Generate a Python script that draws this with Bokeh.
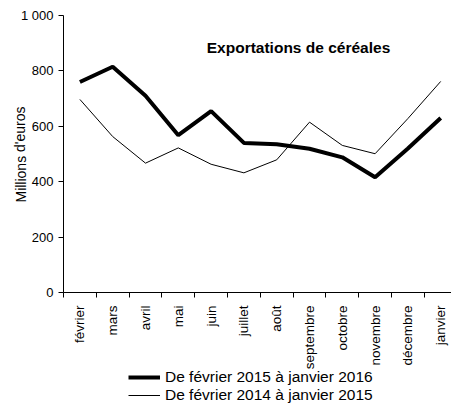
from bokeh.plotting import figure
from bokeh.models import Range1d, FixedTicker, Label, Legend, LegendItem
from bokeh.embed import file_html
from bokeh.resources import INLINE

months = ["février", "mars", "avril", "mai", "juin", "juillet", "août",
          "septembre", "octobre", "novembre", "décembre", "janvier"]
serie_2015 = [760, 815, 710, 568, 655, 540, 535, 519, 488, 416, 520, 630]
serie_2014 = [697, 563, 467, 522, 463, 432, 479, 615, 531, 501, 628, 762]
y_ticks = [0, 200, 400, 600, 800, 1000]
y_labels = {0: "0", 200: "200", 400: "400", 600: "600", 800: "800", 1000: "1 000"}

xs = list(range(len(months)))

# the frame fills the whole page; axes are drawn at fixed locations inside it
p = figure(frame_width=451, frame_height=403, output_backend="svg", toolbar_location=None,
           x_range=Range1d(-2.4207, 11.329), y_range=Range1d(-400.7, 1054.15))
p.min_border = 0
p.min_border_left = 0
p.min_border_right = 0
p.min_border_top = 0
p.min_border_bottom = 0
p.outline_line_color = None
p.xgrid.visible = False
p.ygrid.visible = False
p.background_fill_color = "white"
p.border_fill_color = "white"

font = "Liberation Sans"

r1 = p.line(xs, serie_2015, line_width=4, line_color="black")
r2 = p.line(xs, serie_2014, line_width=1, line_color="black")

# x axis, drawn at y = 0
xa = p.xaxis[0]
xa.fixed_location = 0
xa.bounds = (-0.5, 11.6)
xa.ticker = FixedTicker(ticks=xs, minor_ticks=[i - 0.5 for i in range(len(months) + 1)])
xa.major_label_overrides = {i: m for i, m in enumerate(months)}
xa.major_label_orientation = 1.5708
xa.major_tick_out = 0
xa.major_tick_in = 0
xa.minor_tick_out = 5
xa.minor_tick_in = 0
xa.minor_tick_line_color = "black"
xa.major_label_standoff = 8
xa.major_label_text_font = font
xa.major_label_text_font_size = "13.5px"
xa.major_label_text_color = "black"
xa.axis_line_color = "black"

# y axis, drawn at the first category boundary, limited to 0..1000
ya = p.yaxis[0]
ya.fixed_location = -0.5
ya.bounds = (0, 1000)
ya.ticker = FixedTicker(ticks=y_ticks)
ya.major_label_overrides = y_labels
ya.major_tick_out = 5
ya.major_tick_in = 0
ya.minor_tick_out = 0
ya.minor_tick_in = 0
ya.major_label_standoff = 5
ya.major_label_text_font = font
ya.major_label_text_font_size = "13px"
ya.major_label_text_color = "black"
ya.axis_line_color = "black"
ya.major_tick_line_color = "black"

ylabel = Label(x=20, y=249, x_units="screen", y_units="screen",
               text="Millions d'euros", text_font=font, text_font_size="14px",
               angle=1.5708, text_align="center", text_baseline="middle",
               text_color="black")
p.add_layout(ylabel)

title = Label(x=298, y=356, x_units="screen", y_units="screen",
              text="Exportations de céréales", text_font=font,
              text_font_size="15.5px", text_font_style="bold",
              text_align="center", text_baseline="middle", text_color="black")
p.add_layout(title)

legend = Legend(items=[LegendItem(label="De février 2015 à janvier 2016", renderers=[r1]),
                       LegendItem(label="De février 2014 à janvier 2015", renderers=[r2])],
                location=(128, -1), orientation="vertical")
legend.padding = 0
legend.margin = 0
legend.spacing = 0
legend.glyph_width = 32
legend.glyph_height = 16
legend.label_height = 16
legend.label_standoff = 5
legend.label_text_font = font
legend.label_text_font_size = "15.5px"
legend.label_text_color = "black"
legend.border_line_color = None
legend.background_fill_alpha = 0
p.add_layout(legend)

open("out.html", "w").write(file_html(p, INLINE))
